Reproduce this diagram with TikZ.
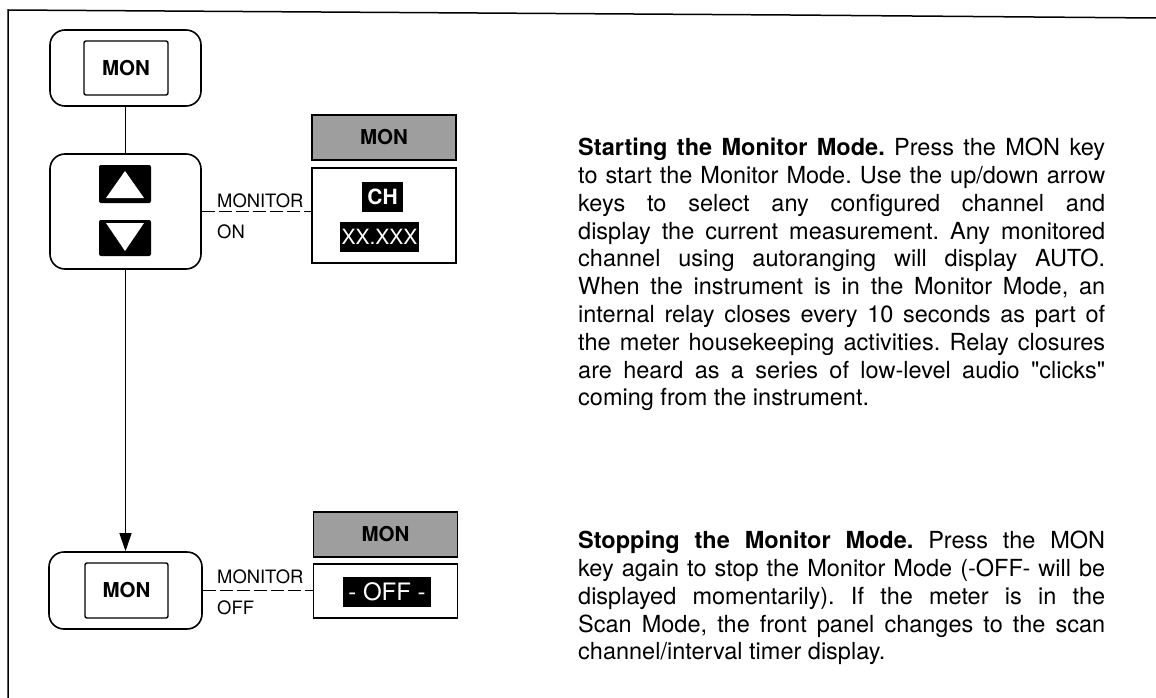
\documentclass[tikz,border=0pt]{standalone}
\usepackage{fontspec}
\setmainfont{TeX Gyre Heros}[Ligatures=TeXOff]
\usetikzlibrary{arrows.meta}
\frenchspacing

\begin{document}
\begin{tikzpicture}[x=1pt, y=-1pt,
    panel/.style={draw, line width=1.6pt, rounded corners=15pt, inner sep=0pt},
    keycap/.style={draw, line width=1.4pt, rounded corners=2pt, inner sep=0pt,
      minimum width=84pt, minimum height=54pt,
      font=\fontsize{20.5}{24}\selectfont\bfseries},
    arrowkey/.style={fill=black, rounded corners=2pt, inner sep=0pt,
      minimum width=52pt},
    shadebox/.style={draw, line width=1.2pt, fill=black!38, inner sep=0pt,
      minimum width=144pt, minimum height=45pt,
      font=\fontsize{20.5}{24}\selectfont\bfseries},
    display/.style={draw, line width=1.2pt, inner sep=0pt, minimum width=144pt},
    lcd/.style={fill=black, text=white, inner sep=0pt, minimum height=30pt},
    wire/.style={line width=1.2pt},
    dashwire/.style={line width=1.2pt, dash pattern=on 13pt off 4pt},
    tag/.style={anchor=base west, inner sep=0pt,
      font=\fontsize{18.4}{22}\selectfont},
    body/.style={anchor=north west, inner sep=0pt, text width=527pt,
      align=justify, font=\fontsize{23.5}{27.8}\selectfont}]

  \useasboundingbox (0,0) rectangle (1156,698);

  % --- Page frame (only top and left edges show) ---
  \draw[line width=1.5pt] (8,698) -- (8,10) -- (790,15) -- (1156,18);

  % --- Key panels ---
  \node[panel, minimum width=151pt, minimum height=76pt] (monpanel) at (125.5,68) {};
  \node[keycap] (monkey) at (126,68) {MON};

  \node[panel, minimum width=151pt, minimum height=115pt] (arrowpanel) at (125.5,211.5) {};
  \node[arrowkey, minimum height=38pt] (upkey) at (125,184) {};
  \node[arrowkey, minimum height=36pt] (downkey) at (125,238) {};
  \fill[white] ([shift={(-19,14)}]upkey.center) -- ([shift={(0,-13)}]upkey.center)
    -- ([shift={(19,14)}]upkey.center) -- cycle;
  \fill[white] ([shift={(-19,-15)}]downkey.center) -- ([shift={(0,13)}]downkey.center)
    -- ([shift={(19,-15)}]downkey.center) -- cycle;

  \node[panel, minimum width=153pt, minimum height=77pt] (offpanel) at (125.5,590.5) {};
  \node[keycap, minimum width=83pt, minimum height=55pt] (offkey) at (126.5,590.5) {MON};

  % --- Front panel displays ---
  \node[shadebox] (onhead) at (384,137.5) {MON};
  \node[display, minimum height=95pt] (ondisplay) at (384,215.5) {};
  \node[lcd, minimum width=41pt, font=\fontsize{21}{24}\selectfont\bfseries]
    (chread) at (382.5,197) {CH};
  \node[lcd, minimum width=79pt, font=\fontsize{21}{24}\selectfont]
    (valread) at (379.5,237) {XX.XXX};

  \node[shadebox] (offhead) at (385.5,534.5) {MON};
  \node[display, minimum height=54pt] (offdisplay) at (385.5,591) {};
  \node[lcd, minimum width=88pt, font=\fontsize{24}{26}\selectfont]
    (offread) at (387,592) {- OFF -};

  % --- Connectors ---
  \draw[wire] (monpanel) -- (arrowpanel);
  \draw[wire, -{Triangle[length=18pt, width=12pt]}] (arrowpanel) -- (offpanel);
  \draw[dashwire] (arrowpanel.east) -- (arrowpanel.east -| ondisplay.west);
  \draw[dashwire] (offpanel.east) -- (offpanel.east -| offdisplay.west);

  \node[tag] (ontag1) at (217,207) {MONITOR};
  \node[tag] (ontag2) at (217,238) {ON};
  \node[tag] (offtag1) at (217,583) {MONITOR};
  \node[tag] (offtag2) at (217,614) {OFF};

  % --- Description ---
  \node[body] (starttext) at (578,138) {\textbf{Starting the Monitor Mode.} Press the MON key\linebreak
    to start the Monitor Mode. Use the up/down arrow\linebreak
    keys to select any configured channel and\linebreak
    display the current measurement. Any monitored\linebreak
    channel using autoranging will display AUTO.\linebreak
    When the instrument is in the Monitor Mode, an\linebreak
    internal relay closes every 10 seconds as part of\linebreak
    the meter housekeeping activities. Relay closures\linebreak
    are heard as a series of low-level audio "clicks"\linebreak
    coming from the instrument.};

  \node[body] (stoptext) at (578,531) {\textbf{Stopping the Monitor Mode.} Press the MON\linebreak
    key again to stop the Monitor Mode (-OFF- will be\linebreak
    displayed momentarily). If the meter is in the\linebreak
    Scan Mode, the front panel changes to the scan\linebreak
    channel/interval timer display.};

\end{tikzpicture}
\end{document}
